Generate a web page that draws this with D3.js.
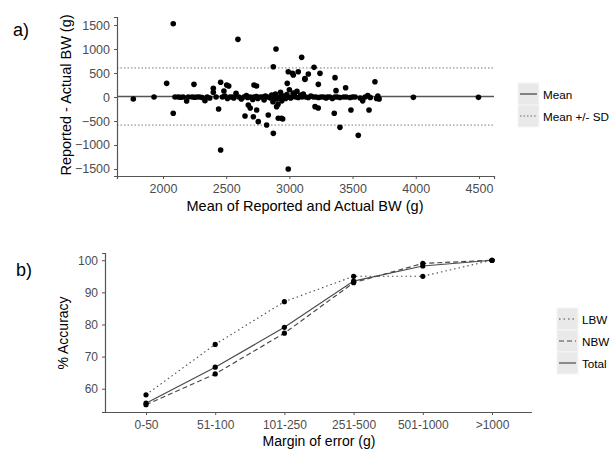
<!DOCTYPE html>
<html lang="en">
<head>
<meta charset="UTF-8">
<title>Reported vs actual birth weight</title>
<script src="https://d3js.org/d3.v7.min.js"></script>
<style>
  body { margin: 0; background: #fff; }
  svg text { font-family: "Liberation Sans", Arial, sans-serif; }
  .tick text { fill: #4d4d4d; }
</style>
</head>
<body>
<svg id="chart" width="614" height="452"></svg>
<script>
// ---- panel a: Bland-Altman points ----
var meanBW = [1765, 1929, 2029, 2081, 2081, 2095, 2120, 2140, 2160, 2187, 2200, 2230, 2245, 2250, 2270, 2290,
  2310, 2332, 2350, 2370, 2398, 2398, 2420, 2440, 2456, 2456, 2470, 2482, 2490, 2504, 2510, 2520, 2530, 2550,
  2560, 2578, 2593, 2600, 2620, 2640, 2649, 2660, 2670, 2675, 2690, 2690, 2710, 2715, 2720, 2720, 2740, 2740,
  2741, 2750, 2754, 2770, 2790, 2800, 2810, 2820, 2830, 2833, 2850, 2860, 2870, 2873, 2873, 2880, 2890, 2894,
  2899, 2900, 2910, 2912, 2920, 2930, 2938, 2940, 2947, 2950, 2960, 2970, 2980, 2983, 2990, 2991, 2991, 3000,
  3010, 3020, 3025, 3030, 3031, 3040, 3050, 3060, 3070, 3070, 3090, 3097, 3100, 3110, 3123, 3123, 3130, 3150,
  3150, 3170, 3190, 3195, 3203, 3210, 3228, 3229, 3230, 3242, 3250, 3270, 3290, 3300, 3320, 3340, 3355, 3360,
  3361, 3369, 3380, 3400, 3400, 3430, 3445, 3450, 3480, 3487, 3500, 3520, 3545, 3560, 3580, 3600, 3620, 3630,
  3640, 3677, 3690, 3700, 3710, 3981, 4496];
var diffBW = [-42, 0, 285, 1527, -340, 0, 0, -5, 0, -83, 0, 0, 264, -5, 0, 0,
  -10, -77, 0, -20, 181, 100, 0, -250, 306, -1104, 0, 125, 20, 250, -30, 229, 0, 0,
  -20, 77, 1201, 0, -40, 0, -396, 30, -10, -167, 0, -230, -50, -410, 250, 0, 230, 10,
  -271, -30, -514, 0, 0, -60, 20, -583, 0, -375, -20, 40, -100, -757, 631, 0, 60, 1000,
  -201, -40, -150, -444, 0, 100, -444, -80, -458, 20, 0, -30, 50, 285, 0, 527, -1500, 150,
  -20, 0, 493, 80, 458, 30, 0, 120, 527, -10, 40, 826, 0, 60, 368, 382, 0, 479,
  -10, 20, 0, 618, -201, 0, -230, 264, -10, 493, 0, 0, -20, 0, 0, -30, -340, 0,
  403, 132, 0, -632, -10, 0, 194, 0, -10, -271, 0, 0, -799, -20, -80, 0, 30, -271,
  -10, 319, -30, 20, -40, -7, -7];
var meanDiff = 10, sdDiff = 595;
var legendA = ["Mean", "Mean +/- SD"];
var xTicksA = [2000, 2500, 3000, 3500, 4000, 4500];
var yTicksA = [-1500, -1000, -500, 0, 500, 1000, 1500];

// ---- panel b: accuracy by margin of error ----
var margins = ["0-50", "51-100", "101-250", "251-500", "501-1000", ">1000"];
var lbw   = [58.1, 73.8, 87.1, 95.0, 95.0, 100];
var nbw   = [55.0, 64.6, 77.3, 93.0, 99.0, 100];
var total = [55.5, 66.7, 79.1, 93.5, 98.2, 100];
var groups = ["LBW", "NBW", "Total"];
var yTicksB = [60, 70, 80, 90, 100];

var svg = d3.select("#chart");
var axisCol = "#555", lineCol = "#4a4a4a";

function styleAxis(g) {
  g.select(".domain").attr("stroke", axisCol).attr("stroke-width", 1.2);
  g.selectAll(".tick line").attr("stroke", axisCol);
}

// ===== panel a =====
var xA = d3.scaleLinear().domain([1636, 4619]).range([117, 494]);
var yA = d3.scaleLinear().domain([-1646, 1667]).range([176, 17]);

var gA = svg.append("g");
gA.append("line").attr("x1", 117).attr("x2", 494)
  .attr("y1", yA(meanDiff)).attr("y2", yA(meanDiff))
  .attr("stroke", "#555").attr("stroke-width", 1.3);
[meanDiff + sdDiff, meanDiff - sdDiff].forEach(function (v) {
  gA.append("line").attr("x1", 117).attr("x2", 494)
    .attr("y1", yA(v)).attr("y2", yA(v))
    .attr("stroke", "#777").attr("stroke-width", 1).attr("stroke-dasharray", "1.5,2");
});

gA.selectAll("circle").data(meanBW).enter().append("circle")
  .attr("cx", function (d) { return xA(d); })
  .attr("cy", function (d, i) { return yA(diffBW[i]); })
  .attr("r", 2.8).attr("fill", "#000");

gA.append("g").attr("transform", "translate(0,176)")
  .call(d3.axisBottom(xA).tickValues(xTicksA).tickSize(3).tickPadding(5).tickFormat(d3.format("d")))
  .call(styleAxis)
  .selectAll("text").attr("font-size", 12.5);
gA.append("g").attr("transform", "translate(117,0)")
  .call(d3.axisLeft(yA).tickValues(yTicksA).tickSize(3).tickPadding(4).tickFormat(d3.format("d")))
  .call(styleAxis)
  .selectAll("text").attr("font-size", 12.5);

gA.append("text").attr("x", 305).attr("y", 211).attr("text-anchor", "middle")
  .attr("font-size", 14.5).text("Mean of Reported and Actual BW (g)");
gA.append("text").attr("transform", "translate(71,95) rotate(-90)").attr("text-anchor", "middle")
  .attr("font-size", 14.5).text("Reported - Actual BW (g)");
gA.append("text").attr("x", 13).attr("y", 36).attr("font-size", 18).text("a)");

// legend a
var legA = gA.append("g").attr("transform", "translate(518,83)");
legendA.forEach(function (name, i) {
  var row = legA.append("g").attr("transform", "translate(0," + (i * 22) + ")");
  row.append("rect").attr("width", 21).attr("height", 22).attr("fill", "#e9e9e9")
    .attr("stroke", "#f6f6f6").attr("stroke-width", 1);
  row.append("line").attr("x1", 2).attr("x2", 19).attr("y1", 11).attr("y2", 11)
    .attr("stroke", i === 0 ? lineCol : "#666").attr("stroke-width", i === 0 ? 1.3 : 1)
    .attr("stroke-dasharray", i === 0 ? null : "1.5,2");
  row.append("text").attr("x", 25).attr("y", 15.5).attr("font-size", 11.7).text(name);
});

// ===== panel b =====
var xB = d3.scalePoint().domain(margins).range([146, 492]);
var yB = d3.scaleLinear().domain([52.75, 102.25]).range([412, 253]);
var series = [
  { name: "LBW", values: lbw, dash: "1.5,3", w: 1.1 },
  { name: "NBW", values: nbw, dash: "5,3", w: 1.2 },
  { name: "Total", values: total, dash: null, w: 1.2 }
];
var gB = svg.append("g");
var line = d3.line().x(function (d, i) { return xB(margins[i]); }).y(function (d) { return yB(d); });

series.forEach(function (s) {
  gB.append("path").datum(s.values).attr("d", line)
    .attr("fill", "none").attr("stroke", lineCol).attr("stroke-width", s.w)
    .attr("stroke-dasharray", s.dash);
});
series.forEach(function (s) {
  gB.selectAll(null).data(s.values).enter().append("circle")
    .attr("cx", function (d, i) { return xB(margins[i]); })
    .attr("cy", function (d) { return yB(d); })
    .attr("r", 2.6).attr("fill", "#000");
});

gB.append("g").attr("transform", "translate(0,412)")
  .call(d3.axisBottom(xB).tickSize(3).tickPadding(5))
  .call(function (g) { g.select(".domain").attr("d", "M104.5,0.5H532"); })
  .call(styleAxis)
  .selectAll("text").attr("font-size", 12);
gB.append("g").attr("transform", "translate(105,0)")
  .call(d3.axisLeft(yB).tickValues(yTicksB).tickSize(3).tickPadding(4))
  .call(styleAxis)
  .selectAll("text").attr("font-size", 12);

gB.append("text").attr("x", 319).attr("y", 446).attr("text-anchor", "middle")
  .attr("font-size", 14).text("Margin of error (g)");
gB.append("text").attr("transform", "translate(68,333) rotate(-90)").attr("text-anchor", "middle")
  .attr("font-size", 14).text("% Accuracy");
gB.append("text").attr("x", 16).attr("y", 276).attr("font-size", 18).text("b)");

// legend b
var legB = gB.append("g").attr("transform", "translate(557,308)");
series.forEach(function (s, i) {
  var row = legB.append("g").attr("transform", "translate(0," + (i * 22) + ")");
  row.append("rect").attr("width", 21).attr("height", 22).attr("fill", "#e9e9e9")
    .attr("stroke", "#f6f6f6").attr("stroke-width", 1);
  row.append("line").attr("x1", 2).attr("x2", 19).attr("y1", 11).attr("y2", 11)
    .attr("stroke", lineCol).attr("stroke-width", s.w).attr("stroke-dasharray", s.dash);
  row.append("text").attr("x", 25).attr("y", 15.5).attr("font-size", 11.7).text(s.name);
});
</script>
</body>
</html>
